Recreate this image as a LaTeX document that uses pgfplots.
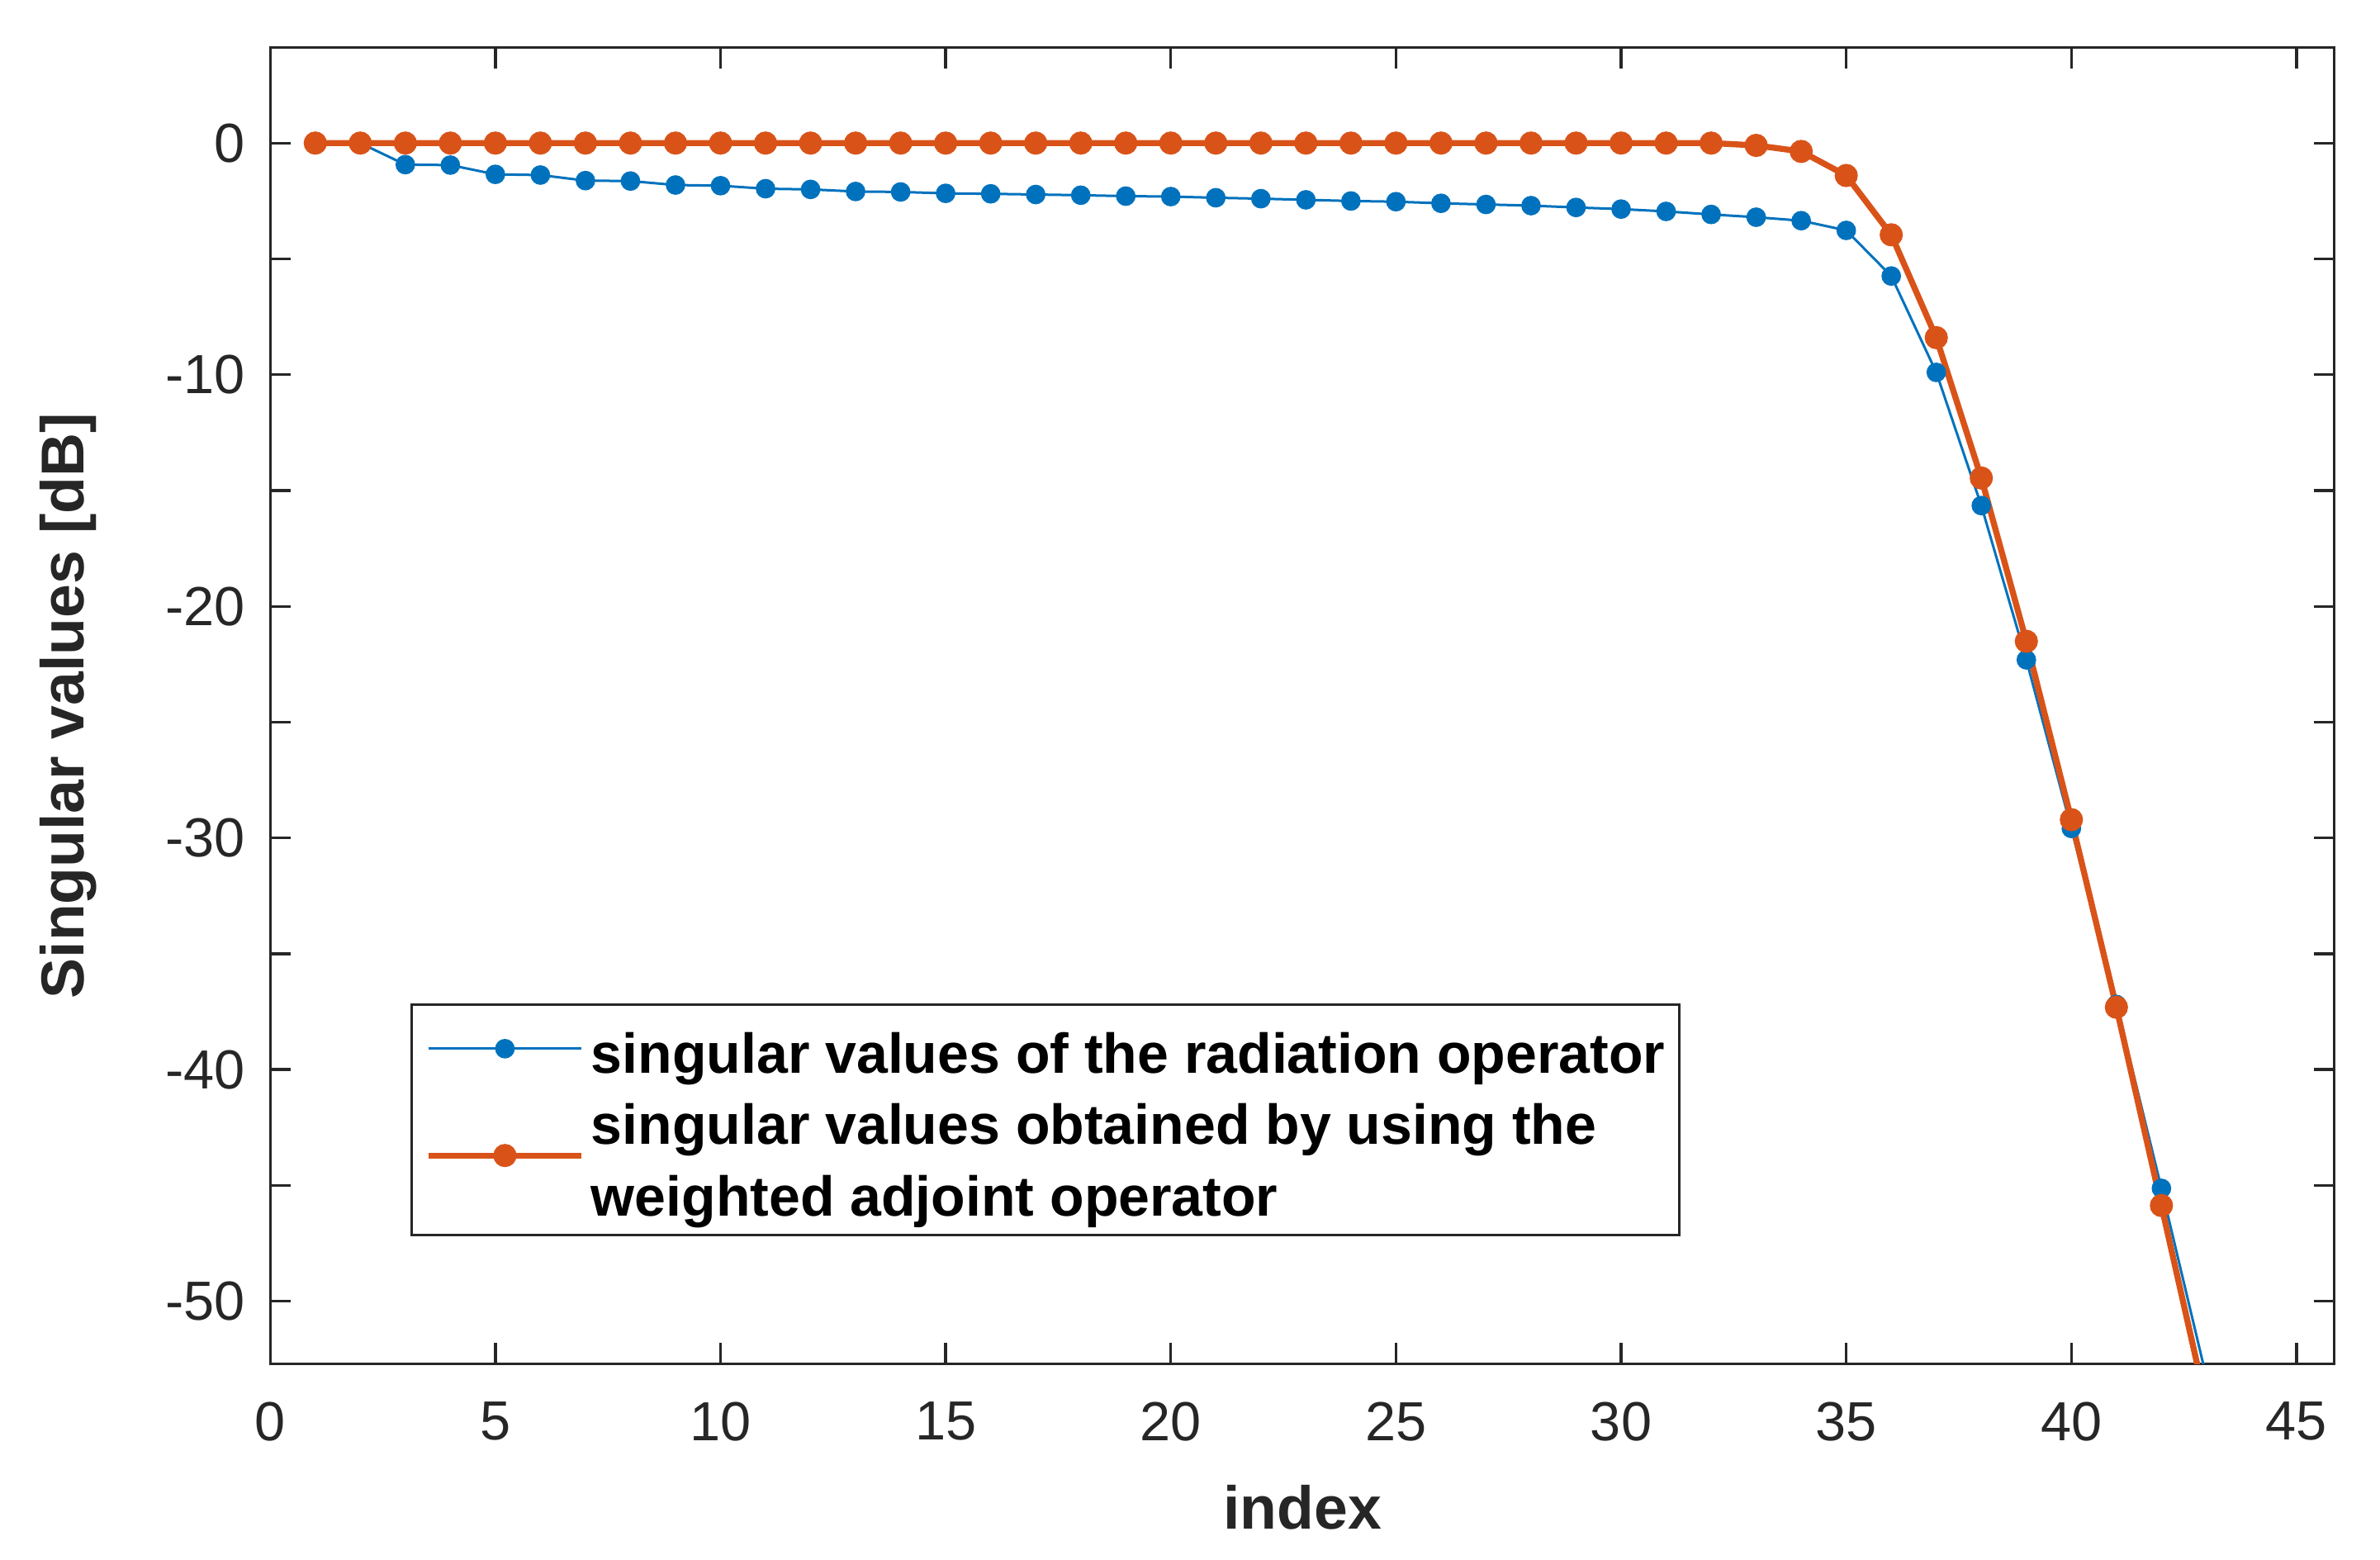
\documentclass[border=0pt]{standalone}
\usepackage{fontspec}
\setmainfont{Liberation Sans}
\usepackage{pgfplots}
\pgfplotsset{compat=1.18}
\definecolor{mblue}{rgb}{0,0.447,0.741}
\definecolor{morange}{rgb}{0.851,0.325,0.098}
\definecolor{axc}{rgb}{0.15,0.15,0.15}
\begin{document}
\begin{tikzpicture}
\begin{axis}[
  scale only axis, width=374.7pt, height=238.9pt,
  xmin=0, xmax=45.84, ymin=-52.7, ymax=4.12,
  xtick={0,5,...,45}, ytick={-50,-40,...,0}, minor ytick={-45,-35,...,-5},
  tick align=inside, major tick length=3.75pt, minor tick length=3.75pt,
  every tick/.style={axc, line width=0.5pt},
  axis line style={axc, line width=0.5pt},
  tick label style={font=\fontsize{10}{12}\selectfont, text=axc},
  xticklabel style={yshift=-3.4pt},
  yticklabel style={xshift=-1.0pt},
  /pgf/number format/assume math mode=true,
  xlabel={index}, ylabel={Singular values [dB]},
  every axis x label/.style={at={(axis description cs:0.5,-0.109)},anchor=center,
    font=\fontsize{11}{13}\selectfont\bfseries, text=axc},
  every axis y label/.style={at={(axis description cs:-0.0977,0.5)},anchor=center,rotate=90,
    font=\fontsize{11}{13}\selectfont\bfseries, text=axc},
  legend style={at={(axis description cs:0.0678,0.2737)}, anchor=north west,
    draw=axc, line width=0.5pt, font=\fontsize{10.2}{13}\selectfont\bfseries,
    cells={align=left}, inner xsep=1.4pt, inner ysep=0pt,
    nodes={inner xsep=1.2pt}},
  legend cell align=left,
  legend image code/.code={\path (0,0); \draw[mark repeat=2,mark phase=2] plot coordinates {(1.1pt,0pt) (15.0pt,0pt) (28.9pt,0pt)};},
]
\addplot[mblue, line width=0.45pt, mark=*, mark size=1.55pt, mark options={solid, fill=mblue, draw=mblue}] coordinates {
(1,0) (2,0) (3,-0.93) (4,-0.95) (5,-1.35) (6,-1.38) (7,-1.62) (8,-1.64)
(9,-1.81) (10,-1.84) (11,-1.97) (12,-2.0) (13,-2.09) (14,-2.11) (15,-2.17)
(16,-2.19) (17,-2.22) (18,-2.25) (19,-2.29) (20,-2.31) (21,-2.36) (22,-2.4)
(23,-2.45) (24,-2.5) (25,-2.53) (26,-2.6) (27,-2.65) (28,-2.7) (29,-2.78)
(30,-2.85) (31,-2.95) (32,-3.08) (33,-3.2) (34,-3.35) (35,-3.77) (36,-5.74)
(37,-9.9) (38,-15.65) (39,-22.31) (40,-29.59) (41,-37.19) (42,-45.13) (43,-53.3)
};
\addlegendentry{\rule{0pt}{10.4pt}singular values of the radiation operator}
\addplot[morange, line width=1.1pt, mark=*, mark size=1.55pt, mark options={solid, fill=morange, draw=morange},
  legend image code/.code={\path (0,0); \draw[mark repeat=2,mark phase=2] plot coordinates {(1.1pt,1.5pt) (15.0pt,1.5pt) (28.9pt,1.5pt)};}] coordinates {
(1,0) (2,0) (3,0) (4,0) (5,0) (6,0) (7,0) (8,0) (9,0) (10,0) (11,0) (12,0)
(13,0) (14,0) (15,0) (16,0) (17,0) (18,0) (19,0) (20,0) (21,0) (22,0) (23,0)
(24,0) (25,0) (26,0) (27,0) (28,0) (29,0) (30,0) (31,0) (32,0) (33,-0.1)
(34,-0.36) (35,-1.4) (36,-3.96) (37,-8.4) (38,-14.46) (39,-21.51) (40,-29.21)
(41,-37.31) (42,-45.87) (43,-54.5)
};
\addlegendentry{singular values obtained by using the\\weighted adjoint operator}
\end{axis}
\pgfresetboundingbox
\path[use as bounding box] ([xshift=-49.06pt,yshift=-35.57pt]current axis.south west) rectangle ([xshift=8.29pt,yshift=8.65pt]current axis.north east);
\end{tikzpicture}
\end{document}
